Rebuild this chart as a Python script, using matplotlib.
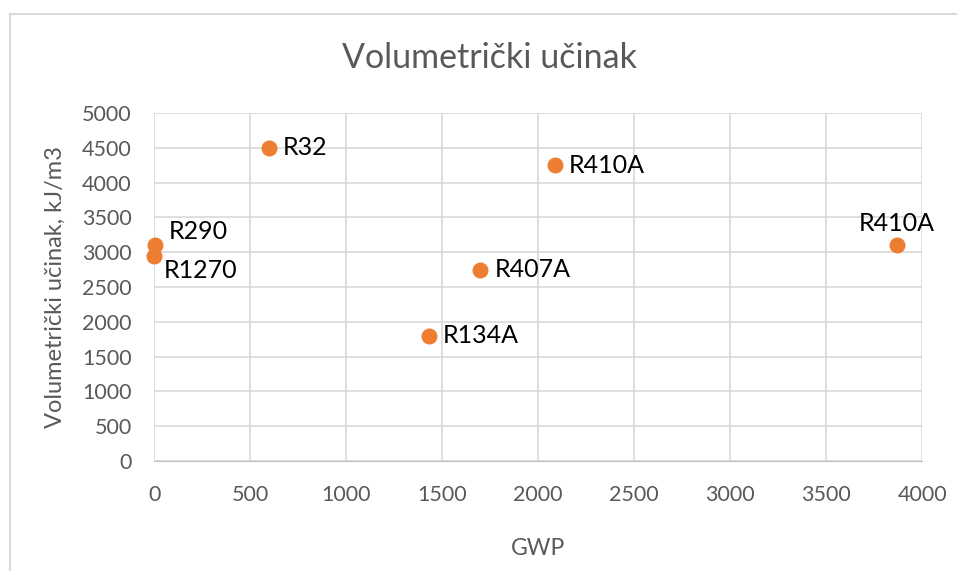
import matplotlib.pyplot as plt
from matplotlib.patches import Rectangle

# podaci
labels = ['R290', 'R1270', 'R32', 'R410A', 'R407A', 'R134A', 'R410A']
gwp = [3, 2, 600, 2088, 1700, 1430, 3870]
ucinak = [3100, 2950, 4500, 4250, 2750, 1800, 3100]
# pomak oznaka (u točkama)
pomak = [(10, 10), (7, -11), (10, 0), (10, 0), (10, 0), (10, 0), (0, 16)]
poravnanje = ['left', 'left', 'left', 'left', 'left', 'left', 'center']

plt.rcParams['font.family'] = ['Lato', 'DejaVu Sans']

fig = plt.figure(figsize=(9.57, 5.71), dpi=100)
ax = fig.add_axes([0.161, 0.1926, 0.8025, 0.6095])

fig.patches.append(Rectangle((10 / 957, -0.1), 1.2, 1.1 - 14 / 571, transform=fig.transFigure,
                             fill=False, edgecolor='#d9d9d9', lw=1.5, zorder=0))

ax.scatter(gwp, ucinak, s=110, color='#ED7D31', zorder=3, clip_on=False)
for x, y, t, (dx, dy), ha in zip(gwp, ucinak, labels, pomak, poravnanje):
    ax.annotate(t, (x, y), xytext=(dx, dy), textcoords='offset points',
                ha=ha, va='center', fontsize=18, color='black')

ax.set_xlim(0, 4000)
ax.set_ylim(0, 5000)
ax.set_xticks(range(0, 4001, 500))
ax.set_yticks(range(0, 5001, 500))
ax.grid(True, color='#d9d9d9', lw=1.2)
ax.set_axisbelow(True)
for s in ['top', 'right', 'left']:
    ax.spines[s].set_visible(False)
ax.spines['bottom'].set_color('#bfbfbf')
ax.tick_params(length=0, labelsize=15.5, labelcolor='#595959')
ax.tick_params(axis='x', pad=17)
ax.tick_params(axis='y', pad=16)

fig.text(490 / 957, 1 - 58 / 571, 'Volumetrički učinak', fontsize=24.5, color='#595959',
         ha='center', va='center')
ax.set_xlabel('GWP', fontsize=16.5, color='#595959', labelpad=24)
ax.set_ylabel('Volumetrički učinak, kJ/m3', fontsize=17, color='#595959', labelpad=12)

fig.savefig('out.png', dpi=100)
